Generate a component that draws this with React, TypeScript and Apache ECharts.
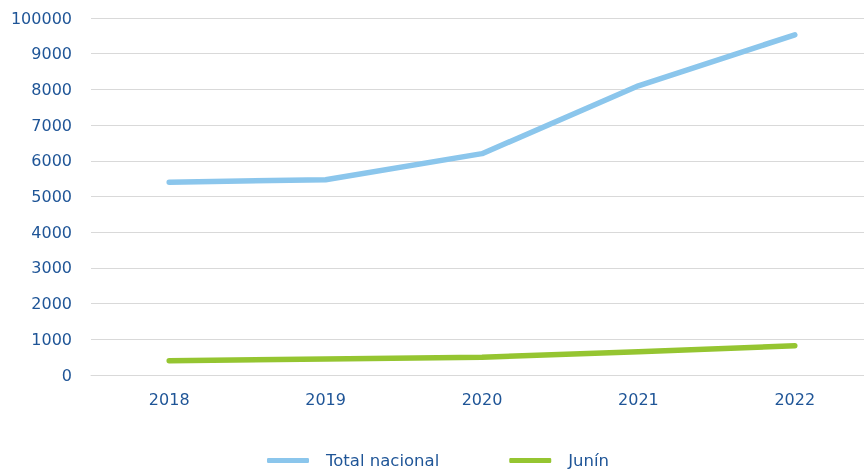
import React, { useEffect, useRef } from "react";
import * as echarts from "echarts";

const categories = ["2018", "2019", "2020", "2021", "2022"];
const totalNacional = [5400, 5470, 6200, 8100, 9530];
const junin = [400, 450, 500, 650, 820];
const yTickValues = [0, 1000, 2000, 3000, 4000, 5000, 6000, 7000, 8000, 9000, 10000];
const yTickLabels = ["0", "1000", "2000", "3000", "4000", "5000", "6000", "7000", "8000", "9000", "100000"];

const textColor = "#1F5597";
const font = "DejaVu Sans";

export default function App() {
  const ref = useRef<HTMLDivElement>(null);
  useEffect(() => {
    if (!ref.current) return;
    const chart = echarts.init(ref.current, undefined, { renderer: "svg" });
    chart.setOption({
      animation: false,
      textStyle: { fontFamily: font },
      grid: { left: 91, top: 18, right: 0, height: 357, containLabel: false },
      xAxis: {
        type: "category",
        data: categories,
        boundaryGap: true,
        axisLine: { lineStyle: { color: "#D9D9D9", width: 1 } },
        axisTick: { show: false },
        axisLabel: { color: textColor, fontSize: 16, margin: 16, fontFamily: font },
      },
      yAxis: {
        type: "value",
        min: 0,
        max: 10000,
        interval: 1000,
        axisLine: { show: false },
        axisTick: { show: false },
        splitLine: { lineStyle: { color: "#D9D9D9", width: 1 } },
        axisLabel: {
          color: textColor,
          fontSize: 16,
          margin: 19,
          fontFamily: font,
          formatter: (v: number) => {
            const i = yTickValues.indexOf(v);
            return i >= 0 ? yTickLabels[i] : String(v);
          },
        },
      },
      legend: {
        left: 262,
        top: 447,
        icon: "roundRect",
        itemWidth: 42,
        itemHeight: 5,
        itemGap: 70,
        textStyle: { color: textColor, fontSize: 16.5, fontFamily: font, padding: [0, 0, 0, 12] },
        data: ["Total nacional", "Junín"],
      },
      series: [
        {
          name: "Total nacional",
          type: "line",
          data: totalNacional,
          symbol: "none",
          lineStyle: { color: "#8BC6EC", width: 5.5, cap: "round", join: "round" },
          itemStyle: { color: "#8BC6EC" },
        },
        {
          name: "Junín",
          type: "line",
          data: junin,
          symbol: "none",
          lineStyle: { color: "#95C531", width: 5.5, cap: "round", join: "round" },
          itemStyle: { color: "#95C531" },
        },
      ],
    });
    return () => chart.dispose();
  }, []);
  return <div ref={ref} style={{ width: 873, height: 472, position: "fixed", left: 0, top: 0 }} />;
}
